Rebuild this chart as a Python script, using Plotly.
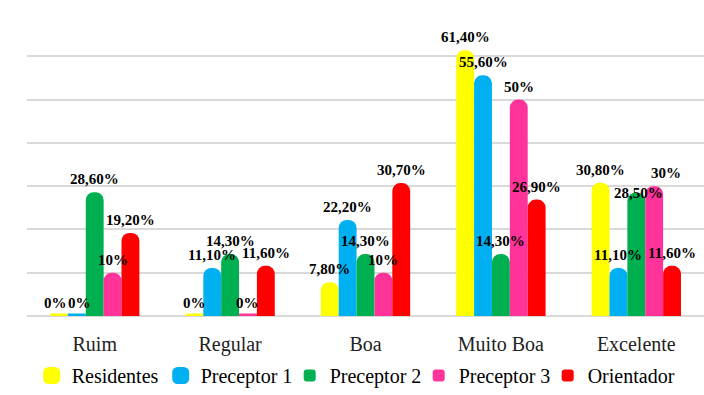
import plotly.graph_objects as go

categories = ["Ruim", "Regular", "Boa", "Muito Boa", "Excelente"]
series_names = ["Residentes", "Preceptor 1", "Preceptor 2", "Preceptor 3", "Orientador"]
residentes = [0, 0, 7.8, 61.4, 30.8]
preceptor1 = [0, 11.1, 22.2, 55.6, 11.1]
preceptor2 = [28.6, 14.3, 14.3, 14.3, 28.5]
preceptor3 = [10, 0, 10, 50, 30]
orientador = [19.2, 11.6, 30.7, 26.9, 11.6]
colors = ["#FFFF00", "#00B0F0", "#00B050", "#FF3399", "#FF0000"]

SERIF = "Liberation Serif, Times New Roman, serif"
PLOT_W = 677
BARGAP = 0.34
BAR_PX = PLOT_W / len(categories) * (1 - BARGAP) / len(series_names)

# nudges (px) for a few crowded value labels: (series, category) -> (dx, dy)
label_nudge = {
    (0, 0): (-3, 0),
    (1, 0): (3, 0),
    (2, 4): (2, -13),
    (3, 4): (12, 0),
}


def pct(v):
    if float(v).is_integer():
        return f"{int(v)}%"
    return f"{v:.2f}".replace(".", ",") + "%"


fig = go.Figure()
all_series = [residentes, preceptor1, preceptor2, preceptor3, orientador]
for i, (name, vals, col) in enumerate(zip(series_names, all_series, colors)):
    # zero values are shown as a flat disc on the floor
    lw = [5 if v == 0 else 0 for v in vals]
    fig.add_trace(go.Bar(
        name=name, x=categories, y=vals,
        marker=dict(color=col, cornerradius=8, line=dict(width=lw, color=col)),
        cliponaxis=False,
    ))
    for j, v in enumerate(vals):
        dx, dy = label_nudge.get((i, j), (0, 0))
        fig.add_annotation(
            x=categories[j], y=v, text=pct(v), showarrow=False,
            xshift=(i - (len(series_names) - 1) / 2) * BAR_PX + dx,
            yshift=3 + dy, yanchor="bottom",
            font=dict(family=SERIF, size=15, color="black", weight="bold"),
        )

fig.update_layout(
    width=704, height=395,
    margin=dict(l=27, r=0, t=13, b=79, autoexpand=False),
    paper_bgcolor="white", plot_bgcolor="white",
    barmode="group", bargap=BARGAP, bargroupgap=0,
    font=dict(family=SERIF, color="black"),
    xaxis=dict(tickfont=dict(family=SERIF, size=20, color="#222"), showline=False,
               ticks="", ticklabelstandoff=14),
    yaxis=dict(range=[0, 70], dtick=10, showticklabels=False, gridcolor="#D9D9D9",
               gridwidth=1.5, zeroline=True, zerolinecolor="#D9D9D9", zerolinewidth=1.5),
    legend=dict(orientation="h", xref="container", x=0.045, xanchor="left",
                yref="container", y=0.0, yanchor="bottom",
                font=dict(family=SERIF, size=20), itemwidth=30,
                entrywidth=84, entrywidthmode="pixels", tracegroupgap=0),
)

fig.write_html("out.html")
